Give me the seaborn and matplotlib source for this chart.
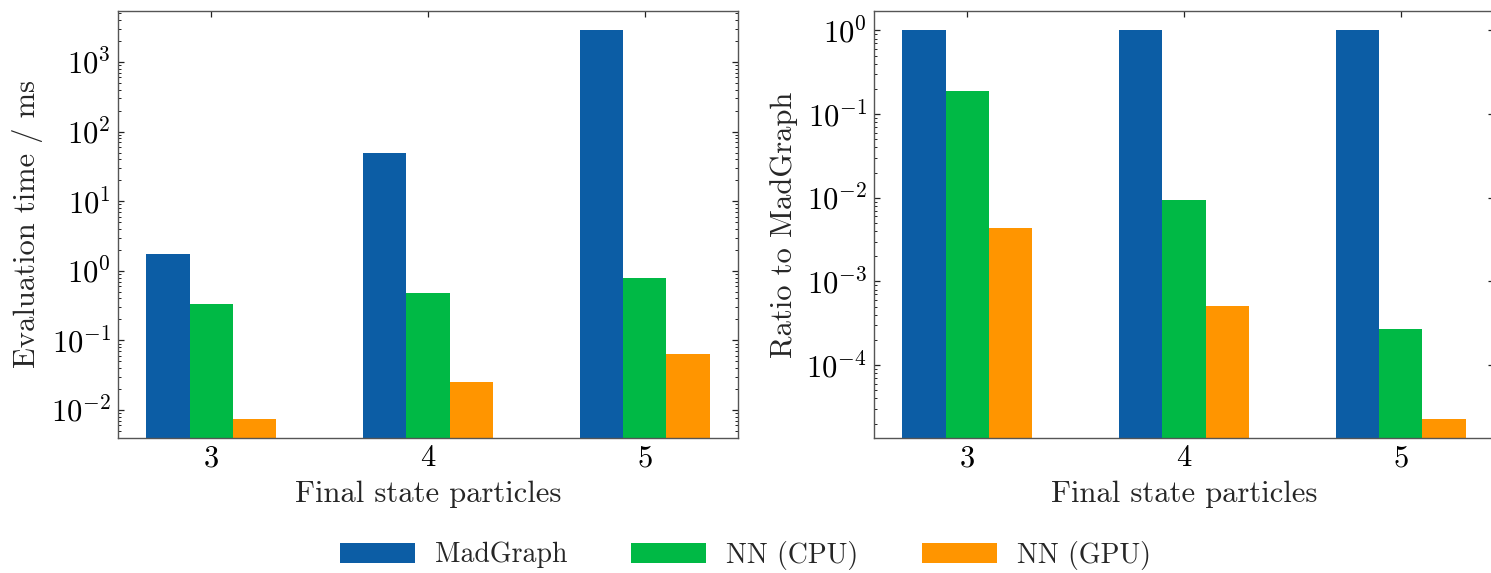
import numpy as np
import pandas as pd
import matplotlib
matplotlib.use("Agg")
import matplotlib.pyplot as plt
import seaborn as sns

# ---- data ----
particles = ["3", "4", "5"]
methods = ["MadGraph", "NN (CPU)", "NN (GPU)"]
time_madgraph = [1.74, 50.0, 2850.0]
time_nn_cpu = [0.33, 0.48, 0.776]
time_nn_gpu = [0.0075, 0.0255, 0.063]
ratio_madgraph = [1.0, 1.0, 1.0]
ratio_nn_cpu = [0.19, 0.0094, 2.7e-4]
ratio_nn_gpu = [0.0044, 5.1e-4, 2.3e-5]
colors = ["#0C5DA5", "#00B945", "#FF9500"]

sns.set_style("ticks")
plt.rcParams.update({
    "font.family": "serif",
    "font.serif": ["cmr10", "DejaVu Serif"],
    "mathtext.fontset": "cm",
    "axes.formatter.use_mathtext": True,
    "axes.unicode_minus": True,
    "axes.linewidth": 1.0,
    "axes.edgecolor": "#555555",
    "xtick.direction": "in",
    "ytick.direction": "in",
    "xtick.top": True,
    "ytick.right": True,
    "xtick.major.size": 4,
    "ytick.major.size": 4,
    "ytick.minor.size": 2,
    "xtick.major.width": 0.9,
    "ytick.major.width": 0.9,
    "ytick.minor.width": 0.7,
    "xtick.major.pad": 5,
    "ytick.major.pad": 5,
    "xtick.color": "#222222",
    "ytick.color": "#222222",
    "xtick.labelcolor": "black",
    "ytick.labelcolor": "black",
})

def long_df(a, b, c):
    rows = []
    for vals, m in zip([a, b, c], methods):
        for p, v in zip(particles, vals):
            rows.append({"particles": p, "method": m, "value": v})
    return pd.DataFrame(rows)

df_time = long_df(time_madgraph, time_nn_cpu, time_nn_gpu)
df_ratio = long_df(ratio_madgraph, ratio_nn_cpu, ratio_nn_gpu)

fig = plt.figure(figsize=(14.91, 5.73), dpi=100)
W, H = 1491, 573
ax1 = fig.add_axes([118 / W, (H - 438) / H, 620 / W, 427 / H])
ax2 = fig.add_axes([874 / W, (H - 438) / H, 620 / W, 427 / H])

FS = 22
for ax, df, ylab in [(ax1, df_time, "Evaluation time / ms"),
                     (ax2, df_ratio, "Ratio to MadGraph")]:
    sns.barplot(data=df, x="particles", y="value", hue="method",
                order=particles, hue_order=methods, palette=colors,
                width=0.6, linewidth=0, saturation=1, ax=ax,
                legend=(ax is ax1))
    ax.set_yscale("log")
    ax.set_xlim(-0.43, 2.43)
    ax.set_xlabel("Final state particles", fontsize=FS, labelpad=6)
    ax.set_ylabel(ylab, fontsize=FS, labelpad=6)
    ax.tick_params(axis="both", which="major", labelsize=FS)
    ax.tick_params(axis="x", which="minor", top=False, bottom=False)
    ax.tick_params(axis="y", which="minor", right=True, left=True)

# ylim: default log margins
def log_lim(vals):
    v = np.log10(vals)
    lo, hi = v.min(), v.max()
    m = 0.05 * (hi - lo)
    return 10 ** (lo - m), 10 ** (hi + m)

ax1.set_ylim(*log_lim(np.array(time_madgraph + time_nn_cpu + time_nn_gpu)))
ax2.set_ylim(*log_lim(np.array(ratio_madgraph + ratio_nn_cpu + ratio_nn_gpu)))

handles, labels = ax1.get_legend_handles_labels()
ax1.get_legend().remove()
fig.legend(handles, labels, loc="center", bbox_to_anchor=(0.5, 1 - 555 / H),
           ncol=3, frameon=False, fontsize=20, handlelength=2.7,
           handleheight=0.75, handletextpad=0.72, columnspacing=2.3)

fig.savefig("out.png", dpi=100)
